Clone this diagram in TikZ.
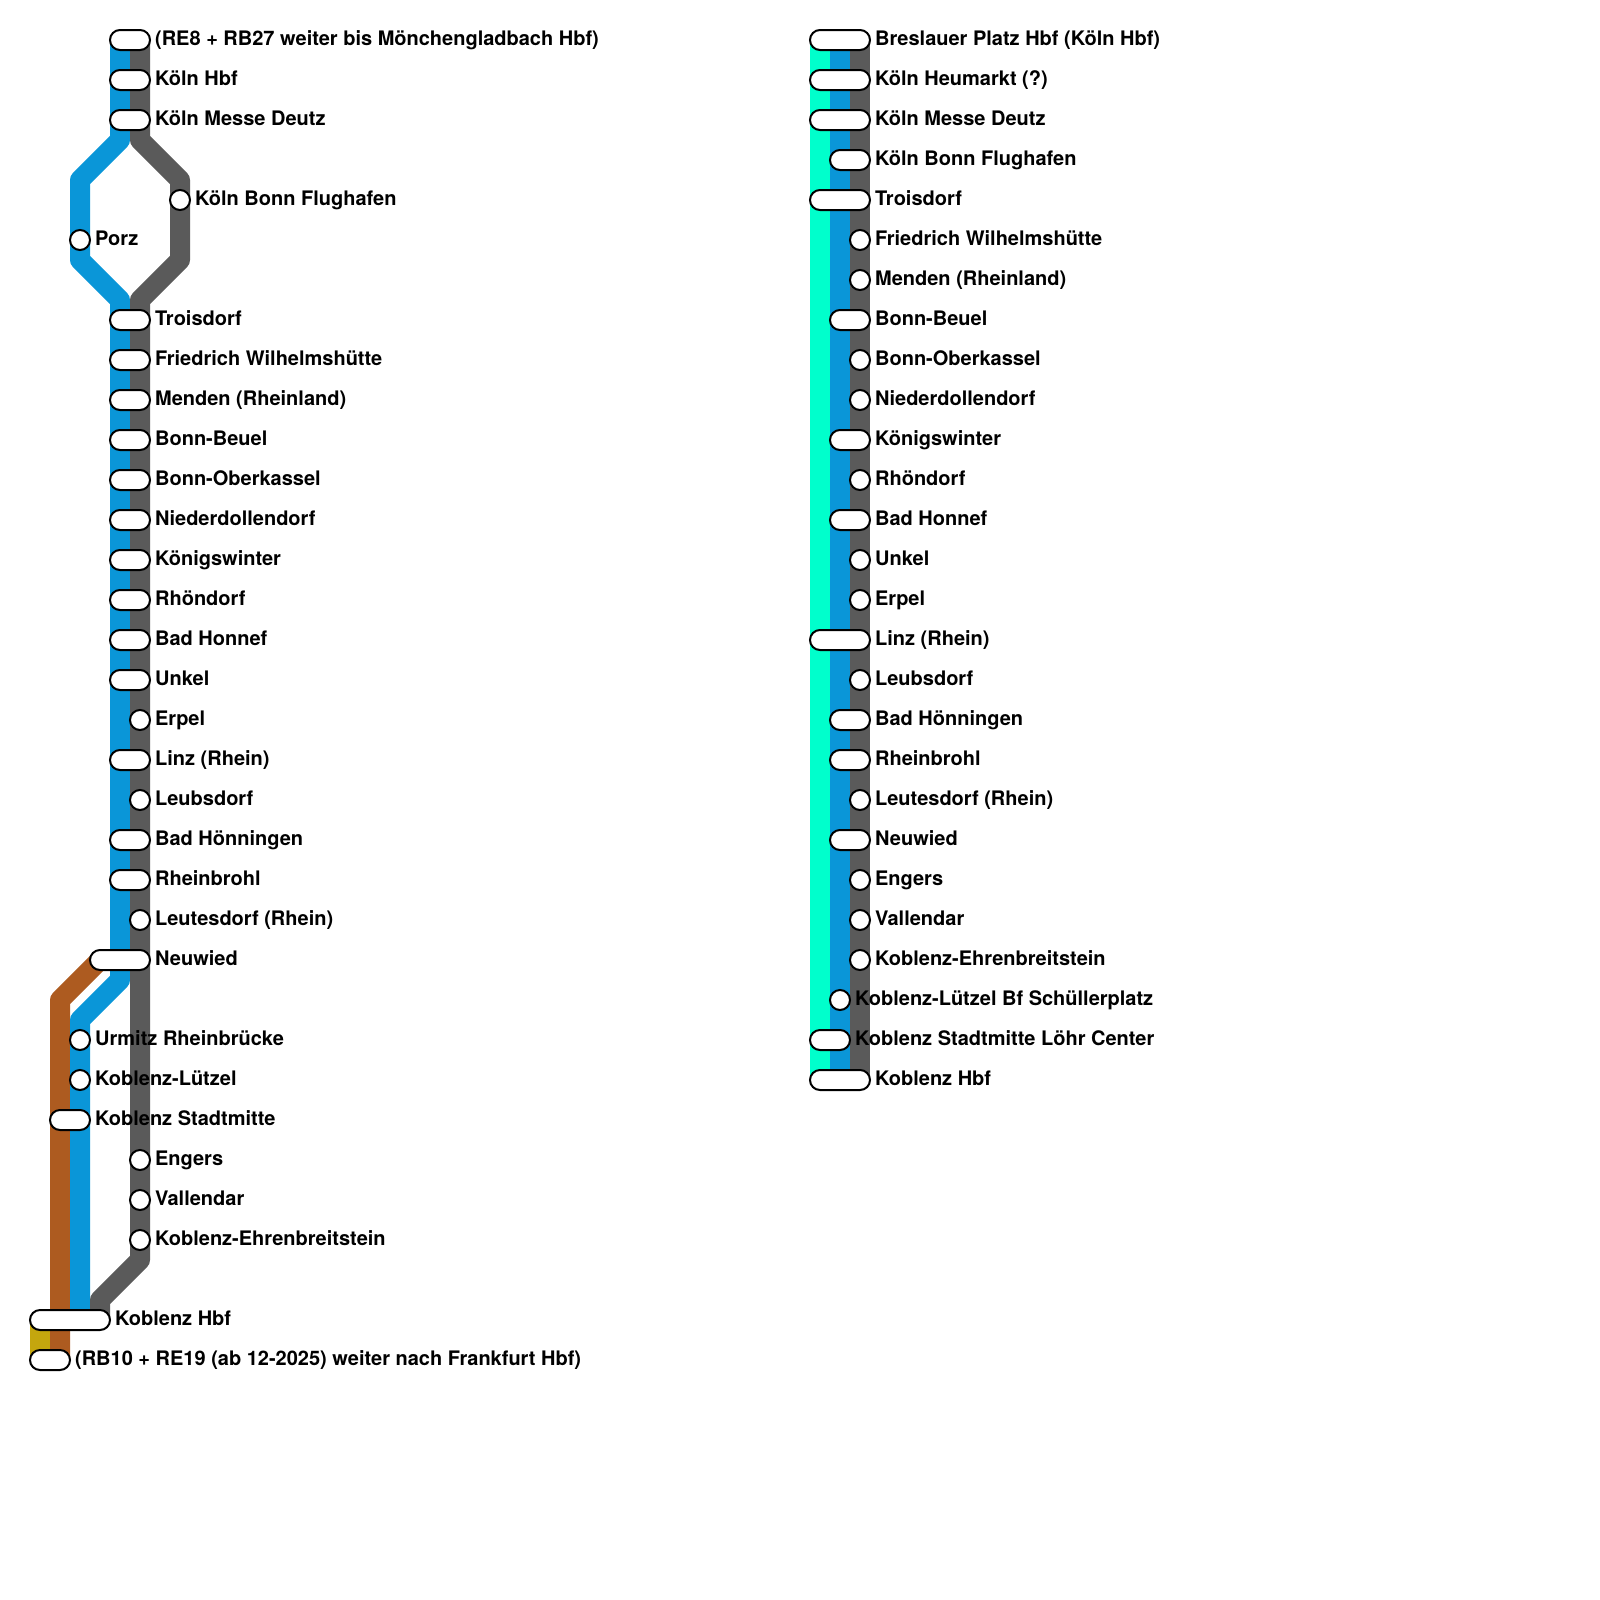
\documentclass[tikz,border=0pt]{standalone}
\usepackage{fontspec}
\setmainfont{TeX Gyre Heros}
\usetikzlibrary{shapes.misc,positioning}

\definecolor{linegray}{HTML}{5A5A5A}
\definecolor{lineblue}{HTML}{0A96D8}
\definecolor{linebrown}{HTML}{AD5B20}
\definecolor{linegold}{HTML}{C4A60E}
\definecolor{lineteal}{HTML}{00FFCC}

\begin{document}
\begin{tikzpicture}[
    x=0.05cm, y=-0.05cm,
    node distance=0.2cm,
    track/.style={line width=1cm, line join=round},
    halt/.style={circle, draw=black, fill=white, line width=0.1cm, inner sep=0pt, minimum size=1cm},
    pill/.style={rounded rectangle, draw=black, fill=white, line width=0.1cm, inner sep=0pt, minimum height=1cm, minimum width=2cm},
    longpill/.style={pill, minimum width=3cm},
    hbfpill/.style={pill, minimum width=4cm},
    lab/.style={inner sep=0pt, text height=0.75cm, text depth=0.25cm, font=\fontsize{28.45}{34}\selectfont\bfseries}
]

\useasboundingbox (0,0) rectangle (1600,1600);

% left line
\coordinate (blueTop) at (120,40);
\coordinate (blueA) at (120,140);
\coordinate (blueB) at (80,180);
\coordinate (blueC) at (80,260);
\coordinate (blueD) at (120,300);
\coordinate (blueE) at (120,980);
\coordinate (blueF) at (80,1020);
\coordinate (blueEnd) at (80,1320);
\coordinate (grayTop) at (140,40);
\coordinate (grayA) at (140,140);
\coordinate (grayB) at (180,180);
\coordinate (grayC) at (180,260);
\coordinate (grayD) at (140,300);
\coordinate (grayE) at (140,1260);
\coordinate (grayF) at (100,1300);
\coordinate (grayEnd) at (100,1320);
\coordinate (brownTop) at (100,960);
\coordinate (brownA) at (60,1000);
\coordinate (brownEnd) at (60,1360);
\coordinate (goldTop) at (40,1320);
\coordinate (goldEnd) at (40,1360);

\draw[track, linegold] (goldTop) -- (goldEnd);
\draw[track, linebrown] (brownTop) -- (brownA) -- (brownEnd);
\draw[track, lineblue] (blueTop) -- (blueA) -- (blueB) -- (blueC) -- (blueD) -- (blueE) -- (blueF) -- (blueEnd);
\draw[track, linegray] (grayTop) -- (grayA) -- (grayB) -- (grayC) -- (grayD) -- (grayE) -- (grayF) -- (grayEnd);

\node[pill] (start) at (130,40) {};
\node[pill] (koeln) at (130,80) {};
\node[pill] (messe) at (130,120) {};
\node[halt] (flughafen) at (180,200) {};
\node[halt] (porz) at (80,240) {};
\node[pill] (troisdorf) at (130,320) {};
\node[pill] (wilhelm) at (130,360) {};
\node[pill] (menden) at (130,400) {};
\node[pill] (beuel) at (130,440) {};
\node[pill] (oberkassel) at (130,480) {};
\node[pill] (nieder) at (130,520) {};
\node[pill] (koenigs) at (130,560) {};
\node[pill] (rhoen) at (130,600) {};
\node[pill] (honnef) at (130,640) {};
\node[pill] (unkel) at (130,680) {};
\node[halt] (erpel) at (140,720) {};
\node[pill] (linz) at (130,760) {};
\node[halt] (leubs) at (140,800) {};
\node[pill] (hoenn) at (130,840) {};
\node[pill] (brohl) at (130,880) {};
\node[halt] (leutes) at (140,920) {};
\node[longpill] (neuwied) at (120,960) {};
\node[halt] (urmitz) at (80,1040) {};
\node[halt] (luetzel) at (80,1080) {};
\node[pill] (stadt) at (70,1120) {};
\node[halt] (engers) at (140,1160) {};
\node[halt] (vallendar) at (140,1200) {};
\node[halt] (ehren) at (140,1240) {};
\node[hbfpill] (koblenz) at (70,1320) {};
\node[pill] (ende) at (50,1360) {};

\node[lab, right=of start] (startL) {(RE8 + RB27 weiter bis Mönchengladbach Hbf)};
\node[lab, right=of koeln] (koelnL) {Köln Hbf};
\node[lab, right=of messe] (messeL) {Köln Messe Deutz};
\node[lab, right=of flughafen] (flughafenL) {Köln Bonn Flughafen};
\node[lab, right=of porz] (porzL) {Porz};
\node[lab, right=of troisdorf] (troisdorfL) {Troisdorf};
\node[lab, right=of wilhelm] (wilhelmL) {Friedrich Wilhelmshütte};
\node[lab, right=of menden] (mendenL) {Menden (Rheinland)};
\node[lab, right=of beuel] (beuelL) {Bonn-Beuel};
\node[lab, right=of oberkassel] (oberkasselL) {Bonn-Oberkassel};
\node[lab, right=of nieder] (niederL) {Niederdollendorf};
\node[lab, right=of koenigs] (koenigsL) {Königswinter};
\node[lab, right=of rhoen] (rhoenL) {Rhöndorf};
\node[lab, right=of honnef] (honnefL) {Bad Honnef};
\node[lab, right=of unkel] (unkelL) {Unkel};
\node[lab, right=of erpel] (erpelL) {Erpel};
\node[lab, right=of linz] (linzL) {Linz (Rhein)};
\node[lab, right=of leubs] (leubsL) {Leubsdorf};
\node[lab, right=of hoenn] (hoennL) {Bad Hönningen};
\node[lab, right=of brohl] (brohlL) {Rheinbrohl};
\node[lab, right=of leutes] (leutesL) {Leutesdorf (Rhein)};
\node[lab, right=of neuwied] (neuwiedL) {Neuwied};
\node[lab, right=of urmitz] (urmitzL) {Urmitz Rheinbrücke};
\node[lab, right=of luetzel] (luetzelL) {Koblenz-Lützel};
\node[lab, right=of stadt] (stadtL) {Koblenz Stadtmitte};
\node[lab, right=of engers] (engersL) {Engers};
\node[lab, right=of vallendar] (vallendarL) {Vallendar};
\node[lab, right=of ehren] (ehrenL) {Koblenz-Ehrenbreitstein};
\node[lab, right=of koblenz] (koblenzL) {Koblenz Hbf};
\node[lab, right=of ende] (endeL) {(RB10 + RE19 (ab 12-2025) weiter nach Frankfurt Hbf)};

% right line
\coordinate (tealTopR) at (820,40);
\coordinate (tealEndR) at (820,1080);
\coordinate (blueTopR) at (840,40);
\coordinate (blueEndR) at (840,1080);
\coordinate (grayTopR) at (860,40);
\coordinate (grayEndR) at (860,1080);

\draw[track, lineteal] (tealTopR) -- (tealEndR);
\draw[track, lineblue] (blueTopR) -- (blueEndR);
\draw[track, linegray] (grayTopR) -- (grayEndR);

\node[longpill] (breslauR) at (840,40) {};
\node[longpill] (heumarktR) at (840,80) {};
\node[longpill] (messeR) at (840,120) {};
\node[pill] (flughafenR) at (850,160) {};
\node[longpill] (troisdorfR) at (840,200) {};
\node[halt] (wilhelmR) at (860,240) {};
\node[halt] (mendenR) at (860,280) {};
\node[pill] (beuelR) at (850,320) {};
\node[halt] (oberkasselR) at (860,360) {};
\node[halt] (niederR) at (860,400) {};
\node[pill] (koenigsR) at (850,440) {};
\node[halt] (rhoenR) at (860,480) {};
\node[pill] (honnefR) at (850,520) {};
\node[halt] (unkelR) at (860,560) {};
\node[halt] (erpelR) at (860,600) {};
\node[longpill] (linzR) at (840,640) {};
\node[halt] (leubsR) at (860,680) {};
\node[pill] (hoennR) at (850,720) {};
\node[pill] (brohlR) at (850,760) {};
\node[halt] (leutesR) at (860,800) {};
\node[pill] (neuwiedR) at (850,840) {};
\node[halt] (engersR) at (860,880) {};
\node[halt] (vallendarR) at (860,920) {};
\node[halt] (ehrenR) at (860,960) {};
\node[halt] (luetzelR) at (840,1000) {};
\node[pill] (stadtR) at (830,1040) {};
\node[longpill] (koblenzR) at (840,1080) {};

\node[lab, right=of breslauR] (breslauRL) {Breslauer Platz Hbf (Köln Hbf)};
\node[lab, right=of heumarktR] (heumarktRL) {Köln Heumarkt (?)};
\node[lab, right=of messeR] (messeRL) {Köln Messe Deutz};
\node[lab, right=of flughafenR] (flughafenRL) {Köln Bonn Flughafen};
\node[lab, right=of troisdorfR] (troisdorfRL) {Troisdorf};
\node[lab, right=of wilhelmR] (wilhelmRL) {Friedrich Wilhelmshütte};
\node[lab, right=of mendenR] (mendenRL) {Menden (Rheinland)};
\node[lab, right=of beuelR] (beuelRL) {Bonn-Beuel};
\node[lab, right=of oberkasselR] (oberkasselRL) {Bonn-Oberkassel};
\node[lab, right=of niederR] (niederRL) {Niederdollendorf};
\node[lab, right=of koenigsR] (koenigsRL) {Königswinter};
\node[lab, right=of rhoenR] (rhoenRL) {Rhöndorf};
\node[lab, right=of honnefR] (honnefRL) {Bad Honnef};
\node[lab, right=of unkelR] (unkelRL) {Unkel};
\node[lab, right=of erpelR] (erpelRL) {Erpel};
\node[lab, right=of linzR] (linzRL) {Linz (Rhein)};
\node[lab, right=of leubsR] (leubsRL) {Leubsdorf};
\node[lab, right=of hoennR] (hoennRL) {Bad Hönningen};
\node[lab, right=of brohlR] (brohlRL) {Rheinbrohl};
\node[lab, right=of leutesR] (leutesRL) {Leutesdorf (Rhein)};
\node[lab, right=of neuwiedR] (neuwiedRL) {Neuwied};
\node[lab, right=of engersR] (engersRL) {Engers};
\node[lab, right=of vallendarR] (vallendarRL) {Vallendar};
\node[lab, right=of ehrenR] (ehrenRL) {Koblenz-Ehrenbreitstein};
\node[lab, right=of luetzelR] (luetzelRL) {Koblenz-Lützel Bf Schüllerplatz};
\node[lab, right=of stadtR] (stadtRL) {Koblenz Stadtmitte Löhr Center};
\node[lab, right=of koblenzR] (koblenzRL) {Koblenz Hbf};

\end{tikzpicture}
\end{document}
